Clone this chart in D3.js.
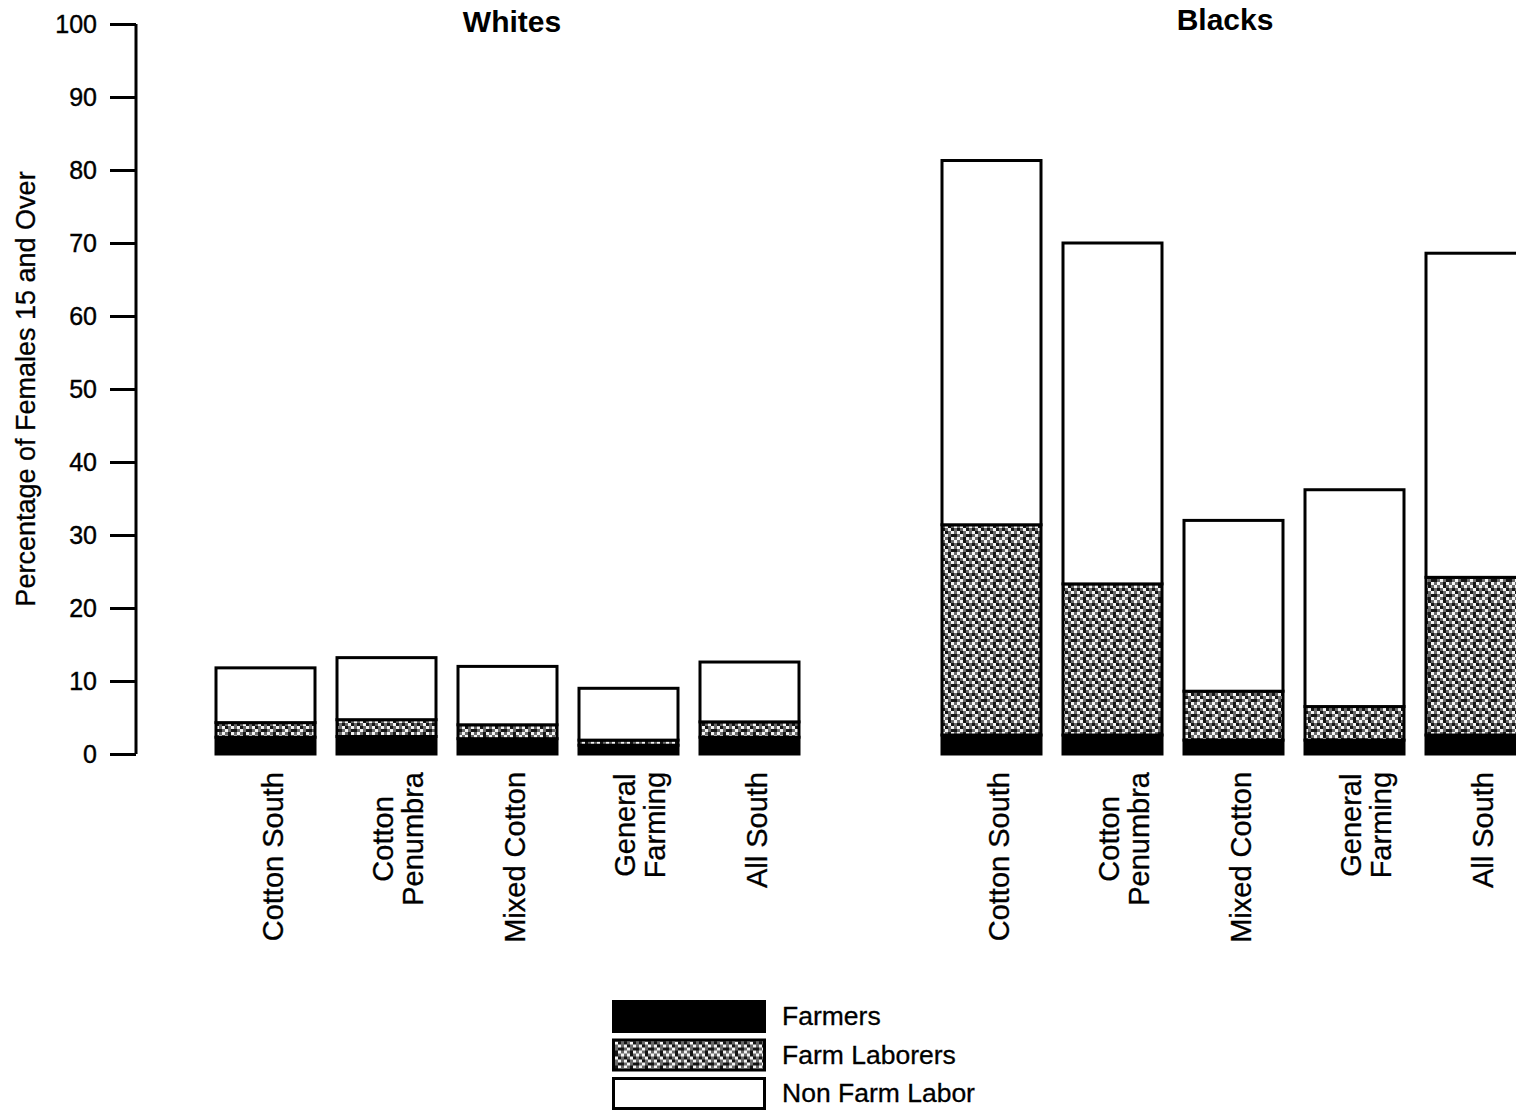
<!DOCTYPE html>
<html>
<head>
<meta charset="utf-8">
<script src="https://cdn.jsdelivr.net/npm/d3@7/dist/d3.min.js"></script>
<style>
  html, body { margin: 0; padding: 0; background: #fff; }
  svg { display: block; font-family: "Liberation Sans", Arial, sans-serif; }
</style>
</head>
<body>
<svg id="chart" width="1516" height="1117"></svg>
<script>
// ---- Data ----
const groups = ["Whites", "Blacks"];
const regions = ["Cotton South", "Cotton Penumbra", "Mixed Cotton", "General Farming", "All South"];
const regionLabels = [["Cotton South"], ["Cotton", "Penumbra"], ["Mixed Cotton"], ["General", "Farming"], ["All South"]];
const seriesNames = ["Farmers", "Farm Laborers", "Non Farm Labor"];

const whitesFarmers      = [2.3, 2.4, 2.1, 1.2, 2.3];
const whitesFarmLaborers = [2.0, 2.3, 1.9, 0.7, 2.1];
const whitesNonFarm      = [7.5, 8.5, 8.0, 7.1, 8.2];

const blacksFarmers      = [2.6, 2.6, 1.9, 1.9, 2.6];
const blacksFarmLaborers = [28.8, 20.7, 6.7, 4.6, 21.6];
const blacksNonFarm      = [49.9, 46.7, 23.4, 29.7, 44.4];

const yTicks = [0, 10, 20, 30, 40, 50, 60, 70, 80, 90, 100];

// ---- Build rows ----
const rows = [];
regions.forEach((r, i) => rows.push({ key: "W|" + r, label: regionLabels[i],
  "Farmers": whitesFarmers[i], "Farm Laborers": whitesFarmLaborers[i], "Non Farm Labor": whitesNonFarm[i] }));
const gapKey = "gap";
regions.forEach((r, i) => rows.push({ key: "B|" + r, label: regionLabels[i],
  "Farmers": blacksFarmers[i], "Farm Laborers": blacksFarmLaborers[i], "Non Farm Labor": blacksNonFarm[i] }));

const domainKeys = [...rows.slice(0, 5).map(d => d.key), gapKey, ...rows.slice(5).map(d => d.key)];

const svg = d3.select("#chart");

// pattern for farm laborers (stippled grey)
const defs = svg.append("defs");
const pat = defs.append("pattern").attr("id", "stipple")
  .attr("patternUnits", "userSpaceOnUse").attr("width", 15).attr("height", 15);
pat.append("rect").attr("width", 15).attr("height", 15).attr("fill", "#8a8a8a");
const cellMap = [
  "wkgwg", "gwkgk", "kgwgw", "wgkkg", "gkwgw"
];
const cellColor = { w: "#f4f4f4", g: "#6a6a6a", k: "#151515" };
cellMap.forEach((row, yi) => row.split("").forEach((c, xi) => {
  pat.append("rect").attr("x", xi * 3).attr("y", yi * 3).attr("width", 3).attr("height", 3)
    .attr("fill", cellColor[c]);
}));

const fills = { "Farmers": "#000000", "Farm Laborers": "url(#stipple)", "Non Farm Labor": "#ffffff" };

// ---- Scales ----
const pad = 22 / 121;
const x = d3.scaleBand().domain(domainKeys).range([194, 1547]).paddingInner(pad).paddingOuter(pad);
const y = d3.scaleLinear().domain([0, 100]).range([754, 24]);

// ---- Y axis ----
const yAxis = d3.axisLeft(y).tickValues(yTicks).tickSize(26).tickPadding(13);
const gy = svg.append("g").attr("transform", "translate(136,0)").call(yAxis);
gy.select(".domain").attr("stroke", "#000").attr("stroke-width", 3).attr("d", `M0,${y(100)}V${y(0)}`);
gy.selectAll(".tick line").attr("stroke", "#000").attr("stroke-width", 3);
gy.selectAll(".tick text").attr("font-size", 25).attr("fill", "#000")
  .attr("stroke", "#000").attr("stroke-width", 0.4)
  .attr("font-family", "'Liberation Sans', Arial, sans-serif");

svg.append("text")
  .attr("transform", `translate(35,${(y(0) + y(100)) / 2}) rotate(-90)`)
  .attr("text-anchor", "middle").attr("font-size", 27).attr("fill", "#000")
  .attr("stroke", "#000").attr("stroke-width", 0.3)
  .text("Percentage of Females 15 and Over");

// ---- Stacked bars ----
const stack = d3.stack().keys(seriesNames);
const stacked = stack(rows);

const layer = svg.append("g").selectAll("g").data(stacked).join("g")
  .attr("fill", d => fills[d.key]);
layer.selectAll("rect").data(d => d).join("rect")
  .attr("x", d => x(d.data.key))
  .attr("width", x.bandwidth())
  .attr("y", d => y(d[1]))
  .attr("height", d => y(d[0]) - y(d[1]))
  .attr("stroke", "#000").attr("stroke-width", 3);

// ---- Category labels ----
const labG = svg.append("g");
rows.forEach(d => {
  const cx = x(d.key) + x.bandwidth() / 2;
  const lines = d.label;
  const g = labG.append("g");
  const texts = lines.map((t, i) => g.append("text").attr("font-size", 29).attr("fill", "#000")
    .attr("stroke", "#000").attr("stroke-width", 0.3)
    .attr("text-anchor", "middle").text(t));
  const maxLen = d3.max(texts, t => t.node().getComputedTextLength());
  const cy = 772 + maxLen / 2;
  const base0 = lines.length === 1 ? cx + 17 : cx + 6;
  texts.forEach((t, i) => t.attr("transform", `translate(${base0 + i * 30},${cy}) rotate(-90)`));
});

// ---- Group titles ----
svg.append("text").attr("x", 512).attr("y", 32).attr("text-anchor", "middle")
  .attr("font-size", 30).attr("font-weight", "bold").attr("fill", "#000").text(groups[0]);
svg.append("text").attr("x", 1225).attr("y", 30).attr("text-anchor", "middle")
  .attr("font-size", 30).attr("font-weight", "bold").attr("fill", "#000").text(groups[1]);

// ---- Legend ----
const legend = svg.append("g").attr("transform", "translate(612,1000)");
seriesNames.forEach((s, i) => {
  const row = legend.append("g").attr("transform", `translate(0,${i * 38.5})`);
  row.append("rect").attr("x", 1.5).attr("y", 1.5).attr("width", 151).attr("height", 30)
    .attr("fill", fills[s]).attr("stroke", "#000").attr("stroke-width", 3);
  row.append("text").attr("x", 170).attr("y", 25).attr("font-size", 26.5).attr("fill", "#000")
    .attr("stroke", "#000").attr("stroke-width", 0.3).text(s);
});
</script>
</body>
</html>
